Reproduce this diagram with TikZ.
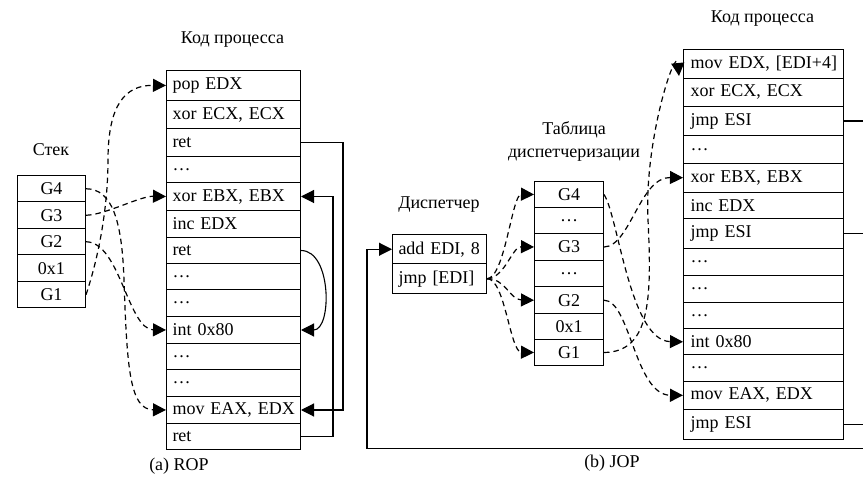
\documentclass[tikz,border=0pt]{standalone}
\usepackage{fontspec}
\setmainfont{Liberation Serif}
\usetikzlibrary{arrows.meta}
\begin{document}
\begin{tikzpicture}[x=1pt,y=-1pt,
  every node/.append style={font=\fontsize{18}{23}\selectfont},
  cell/.style={draw,line width=1pt,inner ysep=0pt,anchor=north west},
  tip/.style={-{Triangle[length=13pt,width=13pt]}},
  dsh/.style={line width=1.2pt,dash pattern=on 5.5pt off 4pt,tip},
  sol/.style={line width=1.1pt},
  lbl/.style={align=center,inner sep=0pt}]
\useasboundingbox (0,0) rectangle (863,481);
\clip (0,0) rectangle (863,481);

% ---------- (a) ROP ----------
\foreach \ya/\yb/\tx/\nm in {70/100/{pop EDX}/lA, 100/128/{xor ECX, ECX}/lB,
  128/156/ret/lC, 156/182/{…}/lD, 182/210/{xor EBX, EBX}/lE, 210/237/{inc EDX}/lF,
  237/263/ret/lG, 263/289/{…}/lH, 289/316/{…}/lI, 316/343/{int 0x80}/lJ,
  343/369/{…}/lK, 369/396/{…}/lL, 396/423/{mov EAX, EDX}/lM, 423/449/ret/lN}{
  \pgfmathsetmacro\hh{\yb-\ya}
  \node[cell,inner xsep=6pt,text width=122pt,align=left,minimum height=\hh pt] (\nm) at (166,\ya) {\mbox{\tx}};
}
\foreach \ya/\yb/\tx/\nm in {175/201.5/G4/sA, 201.5/228/G3/sB, 228/254.5/G2/sC,
  254.5/281/0x1/sD, 281/307.5/G1/sE}{
  \pgfmathsetmacro\hh{\yb-\ya}
  \node[cell,inner xsep=0pt,text width=68pt,align=center,minimum height=\hh pt] (\nm) at (17,\ya) {\tx};
}
\node[lbl] (kodL) at (232.5,40) {Код процесса};
\node[lbl] (stek) at (51,150) {Стек};
\node[lbl] (capA) at (179,466) {(a) ROP};

\draw[dsh] (sE.east) .. controls (101,250) and (108,200) .. (108,160)
  .. controls (108,105) and (125,85) .. (lA.west);
\draw[dsh] (sC.east) .. controls (120,242) and (128,329.5) .. (lJ.west);
\draw[dsh] (sB.east) .. controls (105,215) and (140,196) .. (lE.west);
\draw[dsh] (sA.east) .. controls (112,189) and (122,220) .. (124,280)
  .. controls (127,370) and (130,409.5) .. (lM.west);

\draw[sol,tip] (lC.east) -- ++(42,0) |- (lM.east);
\draw[sol,tip] (lN.east) -- ++(32,0) |- (lE.east);
\draw[sol,tip] (lG.east) .. controls +(31,0) and +(31,0) .. (lJ.east);

% ---------- (b) JOP ----------
\foreach \ya/\yb/\tx/\nm in {234/263.5/{add EDI, 8}/dA, 263.5/293/{jmp [EDI]}/dB}{
  \pgfmathsetmacro\hh{\yb-\ya}
  \node[cell,inner xsep=6pt,text width=82pt,align=left,minimum height=\hh pt] (\nm) at (392,\ya) {\mbox{\tx}};
}
\foreach \ya/\yb/\tx/\nm in {181/207/G4/tA, 207/233/{…}/tB, 233/260/G3/tC,
  260/286.5/{…}/tD, 286.5/313/G2/tE, 313/339/0x1/tF, 339/365/G1/tG}{
  \pgfmathsetmacro\hh{\yb-\ya}
  \node[cell,inner xsep=0pt,text width=69pt,align=center,minimum height=\hh pt] (\nm) at (534,\ya) {\tx};
}
\foreach \ya/\yb/\tx/\nm in {49/77.7/{mov EDX, [EDI+4]}/rA, 77.7/106/{xor ECX, ECX}/rB,
  106/135/{jmp ESI}/rC, 135/162.7/{…}/rD, 162.7/191.7/{xor EBX, EBX}/rE,
  191.7/218.3/{inc EDX}/rF, 218.3/248.3/{jmp ESI}/rG, 248.3/275/{…}/rH,
  275/301.7/{…}/rI, 301.7/328.3/{…}/rJ, 328.3/354.3/{int 0x80}/rK,
  354.3/380.7/{…}/rL, 380.7/409/{mov EAX, EDX}/rM, 409/439/{jmp ESI}/rN}{
  \pgfmathsetmacro\hh{\yb-\ya}
  \node[cell,inner xsep=7pt,text width=145.5pt,align=left,minimum height=\hh pt] (\nm) at (683,\ya) {\mbox{\tx}};
}
\node[lbl] (kodR) at (762.5,19) {Код процесса};
\node[lbl] (disp) at (439,205) {Диспетчер};
\node[lbl] (tabl) at (574,141) {Таблица\\диспетчеризации};
\node[lbl] (capB) at (612,463) {(b) JOP};

\coordinate (bot) at (367,448.5);
\coordinate (rAin) at (679,76);
\draw[sol,tip] (rN.east) -- ++(40,0) |- (bot) |- (dA.west);
\draw[sol] (rC.east) -- ++(40,0) -- ++(0,320);
\draw[sol] (rG.east) -- ++(40,0);

\draw[dsh] (dB.east) .. controls (505,278) and (512,194) .. (tA.west);
\draw[dsh] (dB.east) .. controls (505,278) and (512,246.5) .. (tC.west);
\draw[dsh] (dB.east) .. controls (505,278) and (510,299.7) .. (tE.west);
\draw[dsh] (dB.east) .. controls (505,278) and (510,352) .. (tG.west);

\draw[dsh] (tA.east) .. controls (618,215) and (630,341) .. (rK.west);
\draw[dsh] (tC.east) .. controls (630,246.5) and (640,177) .. (rE.west);
\draw[dsh] (tE.east) .. controls (630,300) and (635,395) .. (rM.west);
\draw[dsh] (tG.east) .. controls (650,352) and (652,300) .. (648,220)
  .. controls (644,140) and (676,45) .. (rAin);
\end{tikzpicture}
\end{document}
